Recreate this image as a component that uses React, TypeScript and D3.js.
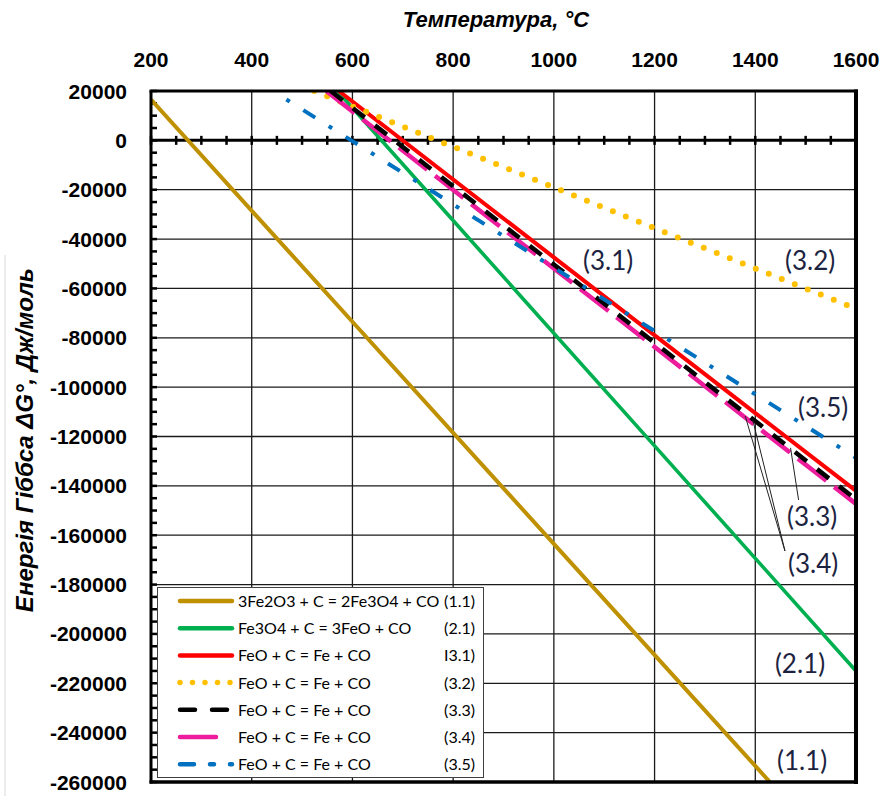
import React from 'react';
import * as d3 from 'd3';

// ---- data ----
const xTicks = [200, 400, 600, 800, 1000, 1200, 1400, 1600];
const yTicks = [20000, 0, -20000, -40000, -60000, -80000, -100000, -120000, -140000, -160000, -180000, -200000, -220000, -240000, -260000];

const tempGold = [200, 600, 1000, 1440];
const dgGold = [16500, -73500, -163500, -262500];
const tempGreen = [570, 800, 1200, 1600];
const dgGreen = [20000, -32500, -123800, -215000];
const tempRed = [573, 1000, 1400, 1600];
const dgRed = [20000, -47400, -110500, -142000];
const tempYellow = [524, 800, 1000, 1200, 1600];
const dgYellow = [20000, -2600, -19000, -35600, -68200];
const tempBlack = [557, 1000, 1600];
const dgBlack = [20000, -50300, -145500];
const tempPink = [548, 1000, 1600];
const dgPink = [20000, -51900, -147300];
const tempBlue = [442, 600, 1000, 1400, 1600];
const dgBlue = [20000, -300, -51600, -102900, -128600];

const legendEquations = [
  '3Fe2O3 + C = 2Fe3O4 + CO',
  'Fe3O4 + C = 3FeO + CO',
  'FeO + C = Fe + CO',
  'FeO + C = Fe + CO',
  'FeO + C = Fe + CO',
  'FeO + C = Fe + CO',
  'FeO + C = Fe + CO',
];
const legendNumbers = ['(1.1)', '(2.1)', 'I3.1)', '(3.2)', '(3.3)', '(3.4)', '(3.5)'];
const curveLabels = ['(3.1)', '(3.2)', '(3.5)', '(3.3)', '(3.4)', '(2.1)', '(1.1)'];
const curveLabelT = [1058, 1459, 1485, 1463, 1465, 1439, 1443];
const curveLabelG = [-52500, -52500, -112100, -156200, -175300, -215800, -255100];

const xTitle = 'Температура, °C';
const yTitle = 'Енергія Гіббса ΔG°, Дж/моль';

// ---- layout ----
const W = 882;
const H = 796;
const L = 151;
const R = 856;
const TOP = 91;
const B = 782;

const x = d3.scaleLinear().domain([200, 1600]).range([L, R]);
const y = d3.scaleLinear().domain([-260000, 20000]).range([B, TOP]);

type S = {
  t: number[];
  g: number[];
  color: string;
  width: number;
  dash?: string;
  cap?: 'round' | 'butt';
  offset?: number;
  legendDash?: string;
  legendLen?: number;
};

const series: S[] = [
  { t: tempGold, g: dgGold, color: '#BF9000', width: 4 },
  { t: tempGreen, g: dgGreen, color: '#00B050', width: 3.6 },
  { t: tempRed, g: dgRed, color: '#FF0000', width: 4 },
  { t: tempYellow, g: dgYellow, color: '#FFC000', width: 6, dash: '0 14', cap: 'round', legendDash: '0 12.5' },
  { t: tempPink, g: dgPink, color: '#EC1C9C', width: 4.5, dash: '36 10', legendLen: 36 },
  { t: tempBlack, g: dgBlack, color: '#000000', width: 4.5, dash: '15 13', legendDash: '15 17' },
  { t: tempBlue, g: dgBlue, color: '#0070C0', width: 4, dash: '14 16 4 16', offset: 14, legendDash: '14 16 4 16' },
];
// legend order differs from drawing order (pink drawn below black)
const legendOrder = [0, 1, 2, 3, 5, 4, 6];

const lineGen = d3
  .line<[number, number]>()
  .x((d) => x(d[0]))
  .y((d) => y(d[1]));

const axisFont = '"Liberation Sans", Arial, sans-serif';
const calFont = 'Lato, "Open Sans", sans-serif';

export default function App() {
  const minorY = d3.range(-260000, 20001, 5000);
  const minorX = d3.range(200, 1601, 50);
  const rowY = (i: number) => 601 + i * 27.2;

  return (
    <svg
      width={W}
      height={H}
      viewBox={`0 0 ${W} ${H}`}
      style={{ position: 'absolute', left: 0, top: 0, background: '#fff' }}
    >
      <rect x={0} y={0} width={W} height={H} fill="#fff" />
      <defs>
        <clipPath id="plotClip">
          <rect x={L} y={TOP} width={R - L} height={B - TOP} />
        </clipPath>
      </defs>

      {/* faint frame line at the far left */}
      <line x1={5} y1={255} x2={5} y2={796} stroke="#d9d9d9" strokeWidth={1} />

      {/* gridlines */}
      {xTicks.slice(1, -1).map((v) => (
        <line key={'gx' + v} x1={x(v)} x2={x(v)} y1={TOP} y2={B} stroke="#1a1a1a" strokeWidth={1.3} />
      ))}
      {yTicks.slice(1, -1).map((v) => (
        <line key={'gy' + v} x1={L} x2={R} y1={y(v)} y2={y(v)} stroke="#1a1a1a" strokeWidth={1.3} />
      ))}

      {/* zero line and its ticks */}
      <line x1={L} x2={R} y1={y(0)} y2={y(0)} stroke="#000" strokeWidth={3} />
      {minorX.map((v) => (
        <line key={'mx' + v} x1={x(v)} x2={x(v)} y1={y(0) - 4.5} y2={y(0) + 4.5} stroke="#000" strokeWidth={2.5} />
      ))}

      {/* left axis minor ticks */}
      {minorY.map((v) => (
        <line key={'my' + v} x1={L} x2={L + 6} y1={y(v)} y2={y(v)} stroke="#000" strokeWidth={2.5} />
      ))}

      {/* data series */}
      <g clipPath="url(#plotClip)">
        {series.map((s, i) => (
          <path
            key={'s' + i}
            d={lineGen(s.t.map((t, j) => [t, s.g[j]] as [number, number])) || ''}
            fill="none"
            stroke={s.color}
            strokeWidth={s.width}
            strokeDasharray={s.dash}
            strokeDashoffset={s.offset}
            strokeLinecap={s.cap || 'butt'}
          />
        ))}
      </g>

      {/* frame */}
      <line x1={L - 1.5} x2={R + 2} y1={TOP} y2={TOP} stroke="#000" strokeWidth={3} />
      <line x1={L} x2={L} y1={TOP} y2={B + 1.5} stroke="#000" strokeWidth={3} />
      <line x1={R} x2={R} y1={TOP - 1.5} y2={B + 2} stroke="#000" strokeWidth={4} />
      <line x1={L - 1.5} x2={R + 2} y1={B} y2={B} stroke="#000" strokeWidth={3.5} />

      {/* x tick labels (top) */}
      {xTicks.map((v) => (
        <text
          key={'xl' + v}
          x={x(v)}
          y={67}
          textAnchor="middle"
          fontFamily={axisFont}
          fontWeight="bold"
          fontSize={21}
          fill="#000"
        >
          {v}
        </text>
      ))}
      {/* y tick labels */}
      {yTicks.map((v) => (
        <text
          key={'yl' + v}
          x={127}
          y={y(v) + 7.5}
          textAnchor="end"
          fontFamily={axisFont}
          fontWeight="bold"
          fontSize={21}
          fill="#000"
        >
          {v}
        </text>
      ))}

      {/* axis titles */}
      <text
        x={496}
        y={27}
        textAnchor="middle"
        fontFamily={axisFont}
        fontWeight="bold"
        fontStyle="italic"
        fontSize={22}
        fill="#000"
      >
        {xTitle}
      </text>
      <text
        transform={`translate(33, 440) rotate(-90)`}
        textAnchor="middle"
        fontFamily={axisFont}
        fontWeight="bold"
        fontStyle="italic"
        fontSize={24}
        fill="#000"
      >
        {yTitle}
      </text>

      {/* curve labels and pointers */}
      {curveLabels.map((lab, i) => (
        <text
          key={'cl' + i}
          x={x(curveLabelT[i])}
          y={y(curveLabelG[i])}
          fontFamily={calFont}
          fontSize={26}
          fill="#1c2340"
        >
          {lab}
        </text>
      ))}
      <g stroke="#222" strokeWidth={1}>
        <line x1={x(1380)} y1={y(-111700)} x2={x(1459)} y2={y(-166400)} />
        <line x1={x(1395)} y1={y(-113300)} x2={x(1459)} y2={y(-166400)} />
        <line x1={x(1470)} y1={y(-124600)} x2={x(1486)} y2={y(-145700)} />
      </g>

      {/* legend */}
      <rect x={157.5} y={587.5} width={326} height={190} fill="#fff" stroke="#404040" strokeWidth={1} />
      {legendOrder.map((si, row) => {
        const s = series[si];
        const cy = rowY(row);
        const len = s.legendLen || 52;
        return (
          <g key={'lg' + row}>
            <line
              x1={180}
              x2={180 + len}
              y1={cy}
              y2={cy}
              stroke={s.color}
              strokeWidth={s.cap === 'round' ? 5.5 : 4.5}
              strokeDasharray={s.legendDash}
              strokeLinecap={s.cap || 'round'}
            />
            <text x={238} y={cy + 6} fontFamily={calFont} fontSize={16} fill="#000">
              {legendEquations[row]}
            </text>
            <text x={475} y={cy + 6} textAnchor="end" fontFamily={calFont} fontSize={16} fill="#000">
              {legendNumbers[row]}
            </text>
          </g>
        );
      })}
    </svg>
  );
}
